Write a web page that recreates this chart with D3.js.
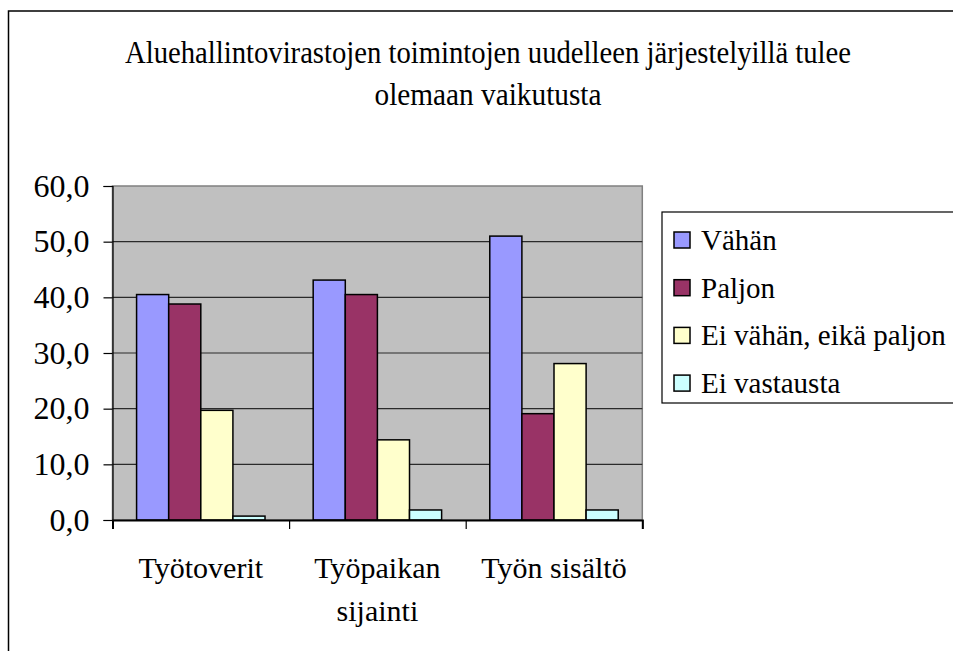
<!DOCTYPE html>
<html>
<head>
<meta charset="utf-8">
<script src="https://cdn.jsdelivr.net/npm/d3@7"></script>
<style>
  body { margin: 0; background: #fff; }
  svg text { font-family: "Liberation Serif", "Times New Roman", Tinos, "DejaVu Serif", serif !important; }
</style>
</head>
<body>
<div id="container"></div>
<script>
// --- Data ---
const categories = [['Työtoverit'], ['Työpaikan', 'sijainti'], ['Työn sisältö']];
const seriesNames = ['Vähän', 'Paljon', 'Ei vähän, eikä paljon', 'Ei vastausta'];
const seriesColors = ['#9999FF', '#993366', '#FFFFCC', '#CCFFFF'];
const vahan = [40.5, 43.1, 51.0];
const paljon = [38.8, 40.5, 19.1];
const eiVahanEikaPaljon = [19.7, 14.4, 28.1];
const eiVastausta = [0.7, 1.8, 1.8];
const yTicks = [0, 10, 20, 30, 40, 50, 60];
const titleLines = ['Aluehallintovirastojen toimintojen uudelleen järjestelyillä tulee', 'olemaan vaikutusta'];

const seriesValues = [vahan, paljon, eiVahanEikaPaljon, eiVastausta];

const width = 953;
const height = 651;
const plot = { left: 112.5, right: 642.3, top: 186, bottom: 520 };

const svg = d3.select('#container').append('svg').attr('width', width).attr('height', height);

// chart area border (runs off the right and bottom edges)
svg.append('rect')
  .attr('x', 8.5).attr('y', 11)
  .attr('width', 1000).attr('height', 700)
  .attr('fill', '#fff').attr('stroke', '#000').attr('stroke-width', 1.5);

// --- Title ---
const title = svg.append('g').attr('class', 'title');
title.append('text')
  .attr('x', 488).attr('y', 63)
  .attr('text-anchor', 'middle')
  .attr('font-size', 31)
  .attr('textLength', 726).attr('lengthAdjust', 'spacingAndGlyphs')
  .text(titleLines[0]);
title.append('text')
  .attr('x', 488).attr('y', 105)
  .attr('text-anchor', 'middle')
  .attr('font-size', 31)
  .attr('textLength', 227).attr('lengthAdjust', 'spacingAndGlyphs')
  .text(titleLines[1]);

// --- Scales ---
const x0 = d3.scaleBand()
  .domain(d3.range(categories.length))
  .range([plot.left, plot.right])
  .paddingInner(0).paddingOuter(0);

// gap width 150% of a bar
const barW = x0.bandwidth() / 5.5;
const x1 = d3.scaleBand()
  .domain(d3.range(seriesNames.length))
  .range([barW * 0.75, x0.bandwidth() - barW * 0.75])
  .padding(0);

const y = d3.scaleLinear().domain([0, 60]).range([plot.bottom, plot.top]);

// --- Plot area ---
svg.append('rect')
  .attr('x', plot.left).attr('y', plot.top)
  .attr('width', plot.right - plot.left).attr('height', plot.bottom - plot.top)
  .attr('fill', '#C0C0C0').attr('stroke', '#808080').attr('stroke-width', 1.5);

// gridlines
svg.append('g')
  .selectAll('line')
  .data(yTicks.filter((d) => d > 0 && d < 60))
  .join('line')
  .attr('x1', plot.left).attr('x2', plot.right)
  .attr('y1', (d) => y(d)).attr('y2', (d) => y(d))
  .attr('stroke', '#2a2a2a').attr('stroke-width', 1.2);

// --- Bars ---
const groups = svg.append('g')
  .selectAll('g')
  .data(categories.map((c, i) => i))
  .join('g')
  .attr('transform', (i) => `translate(${x0(i)},0)`);

groups.selectAll('rect')
  .data((i) => seriesValues.map((vals, s) => ({ s, v: vals[i] })))
  .join('rect')
  .attr('x', (d) => x1(d.s))
  .attr('width', x1.bandwidth())
  .attr('y', (d) => y(d.v))
  .attr('height', (d) => y(0) - y(d.v))
  .attr('fill', (d) => seriesColors[d.s])
  .attr('stroke', '#000')
  .attr('stroke-width', 1.5);

// --- Axes ---
const yAxis = svg.append('g')
  .attr('transform', `translate(${plot.left},0)`)
  .call(d3.axisLeft(y).tickValues(yTicks).tickSize(9).tickPadding(14)
    .tickFormat((d) => d3.format('.1f')(d).replace('.', ',')));
yAxis.select('.domain').attr('stroke', '#000').attr('stroke-width', 1.2);
yAxis.selectAll('.tick line').attr('stroke', '#000').attr('stroke-width', 1.2);
yAxis.selectAll('.tick text')
  .attr('font-size', 32).attr('fill', '#000');

// x axis line with ticks at category boundaries
const xAxis = svg.append('g')
  .attr('transform', `translate(0,${plot.bottom})`)
  .call(d3.axisBottom(d3.scaleLinear().domain([0, 3]).range([plot.left, plot.right]))
    .tickValues([0, 1, 2, 3]).tickSize(9).tickFormat(''));
xAxis.select('.domain').attr('stroke', '#000').attr('stroke-width', 2);
xAxis.selectAll('.tick line').attr('stroke', '#000').attr('stroke-width', 1.2);

// category labels
const catLabels = svg.append('g')
  .selectAll('text')
  .data(categories)
  .join('text')
  .attr('x', (d, i) => x0(i) + x0.bandwidth() / 2)
  .attr('y', 578)
  .attr('text-anchor', 'middle')
  .attr('font-size', 30);
catLabels.selectAll('tspan')
  .data((d) => d)
  .join('tspan')
  .attr('x', function () { return d3.select(this.parentNode).attr('x'); })
  .attr('dy', (d, j) => (j === 0 ? 0 : 43))
  .text((d) => d);

// --- Legend ---
const legend = svg.append('g').attr('transform', 'translate(662,212)');
legend.append('rect')
  .attr('width', 400).attr('height', 191)
  .attr('fill', '#fff').attr('stroke', '#000').attr('stroke-width', 1.2);

const legendRows = legend.selectAll('g.row')
  .data(seriesNames)
  .join('g')
  .attr('class', 'row')
  .attr('transform', (d, i) => `translate(0,${28 + i * 47.7})`);

legendRows.append('rect')
  .attr('x', 12).attr('y', -8)
  .attr('width', 16).attr('height', 16)
  .attr('fill', (d, i) => seriesColors[i])
  .attr('stroke', '#000').attr('stroke-width', 1.5);

legendRows.append('text')
  .attr('x', 39).attr('y', 10)
  .attr('font-size', 29)
  .text((d) => d);
</script>
</body>
</html>
